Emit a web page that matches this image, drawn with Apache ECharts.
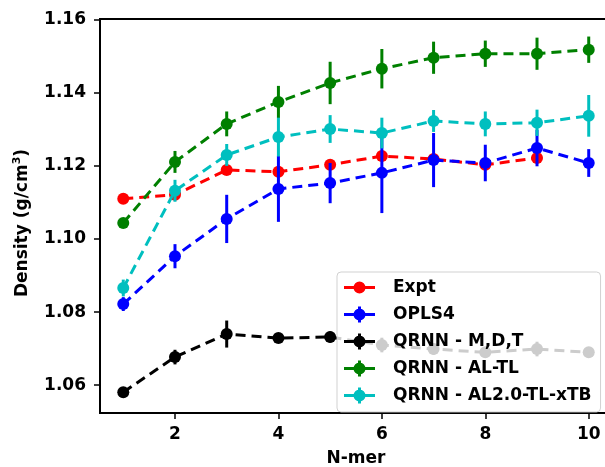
<!DOCTYPE html>
<html>
<head>
<meta charset="utf-8">
<script src="https://cdn.jsdelivr.net/npm/echarts@6/dist/echarts.min.js"></script>
<style>html,body{margin:0;padding:0;background:#fff;}#c{width:605px;height:467px;}</style>
</head>
<body>
<div id="c"></div>
<script>
var nmer = [1, 2, 3, 4, 5, 6, 7, 8, 9, 10];
var seriesNames = ['Expt', 'OPLS4', 'QRNN - M,D,T', 'QRNN - AL-TL', 'QRNN - AL2.0-TL-xTB'];
var exptVals = [1.1110, 1.1121, 1.1189, 1.1184, 1.1203, 1.1227, 1.1219, 1.1203, 1.1222];
var oplsVals = [1.0822, 1.0953, 1.1055, 1.1137, 1.1153, 1.1181, 1.1216, 1.1208, 1.1249, 1.1208];
var oplsErr  = [0.0019, 0.0033, 0.0066, 0.0090, 0.0055, 0.0110, 0.0074, 0.0050, 0.0050, 0.0038];
var mdtVals  = [1.0581, 1.0677, 1.0740, 1.0729, 1.0732, 1.0710, 1.0699, 1.0690, 1.0699, 1.0690];
var mdtErr   = [0.0010, 0.0020, 0.0037, 0.0008, 0.0015, 0.0020, 0.0015, 0.0010, 0.0020, 0.0008];
var altlVals = [1.1044, 1.1211, 1.1315, 1.1375, 1.1427, 1.1466, 1.1496, 1.1507, 1.1507, 1.1518];
var altlErr  = [0.0010, 0.0030, 0.0034, 0.0044, 0.0058, 0.0054, 0.0044, 0.0036, 0.0044, 0.0036];
var xtbVals  = [1.0866, 1.1132, 1.1230, 1.1279, 1.1301, 1.1290, 1.1323, 1.1315, 1.1318, 1.1337];
var xtbErr   = [0.0023, 0.0030, 0.0030, 0.0053, 0.0038, 0.0042, 0.0030, 0.0034, 0.0036, 0.0057];
var yTicks = [1.06, 1.08, 1.10, 1.12, 1.14, 1.16];
var xTicks = [2, 4, 6, 8, 10];

var colors = ['#ff0000', '#0000ff', '#000000', '#008000', '#00bfbf'];
var valsList = [exptVals, oplsVals, mdtVals, altlVals, xtbVals];
var errList = [null, oplsErr, mdtErr, altlErr, xtbErr];

var iconLine = 'path://M0,6.5L31,6.5L31,9.5L0,9.5Z M9.5,8A6,6 0 1,1 21.5,8A6,6 0 1,1 9.5,8Z';
var iconErr = 'path://M0,6.5L31,6.5L31,9.5L0,9.5Z M9.5,8A6,6 0 1,1 21.5,8A6,6 0 1,1 9.5,8Z M14,0L17,0L17,16L14,16Z';

var series = [];
valsList.forEach(function (vals, i) {
  var pts = vals.map(function (v, k) { return [nmer[k], v]; });
  series.push({
    name: seriesNames[i], type: 'line', data: pts, z: 10 + 2 * i,
    symbol: 'circle', symbolSize: 12, showSymbol: true,
    itemStyle: { color: colors[i] },
    lineStyle: { color: colors[i], width: 3, type: [10, 6] },
    animation: false
  });
  if (errList[i]) {
    var e = errList[i];
    var ed = vals.map(function (v, k) { return [nmer[k], v - e[k], v + e[k]]; });
    series.push({
      name: seriesNames[i], type: 'custom', data: ed, z: 11 + 2 * i,
      encode: { x: 0, y: [1, 2] },
      renderItem: (function (col) {
        return function (params, api) {
          var p1 = api.coord([api.value(0), api.value(1)]);
          var p2 = api.coord([api.value(0), api.value(2)]);
          return { type: 'line', shape: { x1: p1[0], y1: p1[1], x2: p2[0], y2: p2[1] },
                   style: { stroke: col, lineWidth: 3 } };
        };
      })(colors[i]),
      animation: false
    });
  }
});

var chart = echarts.init(document.getElementById('c'));
chart.setOption({
  animation: false,
  backgroundColor: '#fff',
  grid: { left: 100, top: 19, width: 512, height: 394, containLabel: false, outerBoundsMode: 'none',
          show: true, borderColor: '#000', borderWidth: 2, backgroundColor: 'transparent' },
  xAxis: {
    type: 'value', min: 0.55, max: 10.45,
    name: 'N-mer', nameLocation: 'middle', nameGap: 37,
    nameTextStyle: { fontFamily: 'DejaVu Sans', fontWeight: 'bold', fontSize: 17, color: '#000' },
    axisLine: { show: true, lineStyle: { color: '#000', width: 2 } },
    axisTick: { show: true, length: 6, lineStyle: { color: '#000', width: 1.5 }, customValues: xTicks },
    axisLabel: { fontFamily: 'DejaVu Sans', fontWeight: 'bold', fontSize: 17, color: '#000', margin: 13, customValues: xTicks },
    splitLine: { show: false }
  },
  yAxis: {
    type: 'value', min: 1.0524, max: 1.1602,
    name: 'Density (g/cm{sup|3})', nameLocation: 'middle', nameGap: 66,
    nameTextStyle: { fontFamily: 'DejaVu Sans', fontWeight: 'bold', fontSize: 17, color: '#000', lineHeight: 22,
      padding: [0, 14, 0, 0],
      rich: { sup: { fontFamily: 'DejaVu Sans', fontWeight: 'bold', fontSize: 11, color: '#000', verticalAlign: 'top', lineHeight: 22 } } },
    axisLine: { show: true, lineStyle: { color: '#000', width: 2 } },
    axisTick: { show: true, length: 6, lineStyle: { color: '#000', width: 1.5 }, customValues: yTicks },
    axisLabel: { fontFamily: 'DejaVu Sans', fontWeight: 'bold', fontSize: 17, color: '#000', margin: 14,
      customValues: yTicks, formatter: function (v) { return v.toFixed(2); } },
    splitLine: { show: false }
  },
  legend: {
    orient: 'vertical', left: 337, top: 272, z: 100,
    data: seriesNames.map(function (n, i) { return { name: n, icon: i === 0 ? iconLine : iconErr }; }),
    itemWidth: 31, itemHeight: 16, itemGap: 10,
    padding: [7, 9, 8, 7],
    backgroundColor: 'rgba(255,255,255,0.8)', borderColor: 'rgba(204,204,204,0.9)', borderWidth: 1, borderRadius: 4,
    textStyle: { fontFamily: 'DejaVu Sans', fontWeight: 'bold', fontSize: 17, color: '#000', padding: [0, 0, 0, 13] },
    selectedMode: false
  },
  series: series
});
</script>
</body>
</html>
